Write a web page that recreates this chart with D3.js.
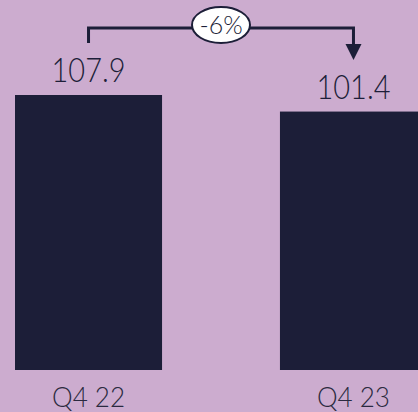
<!DOCTYPE html>
<html>
<head>
<meta charset="utf-8">
<script src="https://cdn.jsdelivr.net/npm/d3@7"></script>
<style>
	html, body { margin: 0; padding: 0; background: #ccaccf; overflow: hidden; }
	svg { display: block; font-family: 'Lato', sans-serif; }
</style>
</head>
<body>
<div id="chart"></div>
<script>
const categories = ['Q4 22', 'Q4 23'];
const values = [107.9, 101.4];
const valueLabels = ['107.9', '101.4'];
const changeLabel = '-6%';

const width = 418;
const height = 412;
const barColor = '#1c1e38';

const svg = d3.select('#chart').append('svg')
	.attr('width', width)
	.attr('height', height);

const x = d3.scaleBand()
	.domain(categories)
	.range([15, 427])
	.paddingInner(0.445)
	.paddingOuter(0);

const y = d3.scaleLinear()
	.domain([0, 107.9])
	.range([370, 95]);

// bars
svg.selectAll('rect.bar')
	.data(values)
	.enter()
	.append('rect')
	.attr('class', 'bar')
	.attr('x', (d, i)=>x(categories[i]))
	.attr('width', x.bandwidth())
	.attr('y', (d)=>y(d))
	.attr('height', (d)=>y(0) - y(d))
	.attr('fill', barColor);

// value labels
svg.selectAll('text.value')
	.data(values)
	.enter()
	.append('text')
	.attr('class', 'value')
	.attr('x', (d, i)=>x(categories[i]) + x.bandwidth() / 2)
	.attr('y', (d)=>y(d) - 13)
	.attr('text-anchor', 'middle')
	.attr('font-size', 33)
	.attr('font-weight', 300)
	.attr('textLength', 74)
	.attr('lengthAdjust', 'spacingAndGlyphs')
	.attr('fill', barColor)
	.text((d, i)=>valueLabels[i]);

// category labels
svg.selectAll('text.cat')
	.data(categories)
	.enter()
	.append('text')
	.attr('class', 'cat')
	.attr('x', (d)=>x(d) + x.bandwidth() / 2)
	.attr('y', 407)
	.attr('text-anchor', 'middle')
	.attr('font-size', 27)
	.attr('font-weight', 300)
	.attr('textLength', 73)
	.attr('lengthAdjust', 'spacingAndGlyphs')
	.attr('fill', '#2a2a40')
	.text((d)=>d);

// change annotation
const x0 = x(categories[0]) + x.bandwidth() / 2;
const x1 = x(categories[1]) + x.bandwidth() / 2;
const lineY = 28;

svg.append('path')
	.attr('d', `M${x0},43 V${lineY} H${x1} V47`)
	.attr('fill', 'none')
	.attr('stroke', barColor)
	.attr('stroke-width', 3);

svg.append('path')
	.attr('d', `M${x1 - 8},44 L${x1 + 8},44 L${x1},60 Z`)
	.attr('fill', barColor);

const midX = (x0 + x1) / 2;
svg.append('ellipse')
	.attr('cx', midX)
	.attr('cy', 25)
	.attr('rx', 29)
	.attr('ry', 18)
	.attr('fill', '#ffffff')
	.attr('stroke', barColor)
	.attr('stroke-width', 2);

svg.append('text')
	.attr('x', midX)
	.attr('y', 34)
	.attr('text-anchor', 'middle')
	.attr('font-size', 25)
	.attr('font-weight', 300)
	.attr('fill', barColor)
	.text(changeLabel);
</script>
</body>
</html>
